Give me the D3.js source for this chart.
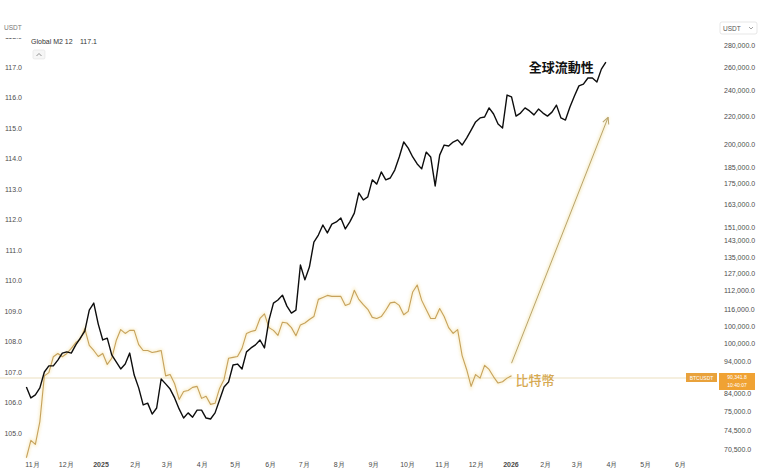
<!DOCTYPE html>
<html><head><meta charset="utf-8">
<script src="https://cdn.jsdelivr.net/npm/d3@7"></script>
<style>
html,body{margin:0;padding:0;background:#fff;}
svg{display:block;font-family:"Liberation Sans",Arial,sans-serif;}
</style></head><body>
<svg id="c" width="760" height="472"></svg>
<script>
// ---------------- data ----------------
const seriesStart = "2024-10-27";
const stepDays = 4;
const m2Name = "Global M2 12";
const m2Last = "117.1";
const m2Values = [106.51,106.15,106.25,106.48,107.00,107.20,107.20,107.39,107.62,107.66,
107.62,107.89,108.11,108.34,109.03,109.26,108.57,108.05,108.11,107.56,
107.33,107.10,107.26,107.62,106.90,106.48,105.92,105.98,105.62,105.82,
106.77,106.61,106.44,106.15,105.79,105.49,105.66,105.52,105.75,105.75,
105.49,105.46,105.66,106.08,106.51,106.67,107.23,107.26,107.10,107.66,
107.79,107.89,108.05,107.79,108.70,109.26,109.36,109.52,109.16,108.93,
109.03,110.51,110.02,110.44,111.26,111.49,111.82,111.56,111.85,111.92,
112.05,111.69,111.92,112.21,112.87,112.64,112.74,113.30,113.16,113.56,
113.30,113.36,113.62,114.05,114.54,114.34,114.05,113.82,113.66,114.21,
114.05,113.10,114.11,114.44,114.41,114.54,114.61,114.44,114.67,114.93,
115.20,115.33,115.36,115.66,115.46,115.13,115.00,116.08,116.02,115.39,
115.49,115.66,115.56,115.43,115.62,115.49,115.39,115.52,115.75,115.33,
115.26,115.69,116.05,116.38,116.44,116.64,116.64,116.51,116.93,117.16];
const btcValues = [68900,73100,72100,77900,91000,92000,97100,98200,97100,98200,
99900,101900,103000,106800,100900,99200,97200,98200,94600,96600,
102600,106500,105100,106200,106200,101200,99200,99200,98500,98800,
99200,91000,91400,88600,84000,86300,86600,87500,87800,84300,
84900,82600,82900,87200,89900,96600,96900,97200,99900,105100,
105800,106200,110600,112300,107200,106200,104400,109200,108900,107200,
104300,108200,108900,110200,111300,118000,118800,119600,119200,119200,
119200,115600,116300,121700,118000,115900,114100,111000,110600,111300,
113700,116600,116900,115600,112000,113300,121000,123900,117600,114000,
110600,110600,114400,111300,107200,105100,106500,97500,93000,87800,
91400,90300,94300,93000,90700,88800,89200,90300,91000];
const btcLastPrice = 90341.8;
const btcCountdown = "10:40:07";
const m2Ticks = [105,106,107,108,109,110,111,112,113,114,115,116,117,118];
const btcTickValues = [280000,260000,240000,220000,200000,185000,175000,163000,151000,144300,136200,129000,121800,114200,107800,101700,95700,85800,80700,75700,70900];
const btcTickLabels = ["280,000.0","260,000.0","240,000.0","220,000.0","200,000.0","185,000.0","175,000.0","163,000.0","151,000.0","143,000.0","135,000.0","127,000.0","112,000.0","116,000.0","100,000.0","100,000.0","94,000.0","84,000.0","75,000.0","74,500.0","70,500.0"];
const xDomain = ["2024-11-01","2026-06-01"];
const m2Label = "全球流動性";
const btcLabel = "比特幣";
const arrowFrom = {date:"2026-01-02", value:95000};
const arrowTo = {date:"2026-03-29", value:219000};

// ---------------- chart ----------------
const parse = d3.timeParse("%Y-%m-%d");
const start = parse(seriesStart);
const svg = d3.select("#c");
const x = d3.scaleTime().domain(xDomain.map(parse)).range([32,680]);
const yM2 = d3.scaleLinear().domain([105,117]).range([433,67]);
const yBtc = d3.scaleLog().domain([70500,280000]).range([451,45]);

const m2Data = m2Values.map((v,i)=>({d:d3.timeDay.offset(start,i*stepDays),v}));
const btcData = btcValues.map((v,i)=>({d:d3.timeDay.offset(start,i*stepDays),v}));

const defs = svg.append("defs");
const f = defs.append("filter").attr("id","glow").attr("x","-20%").attr("y","-20%").attr("width","140%").attr("height","140%");
f.append("feGaussianBlur").attr("stdDeviation",1.4);
defs.append("clipPath").attr("id","leftclip").append("rect").attr("x",0).attr("y",38).attr("width",30).attr("height",440);
defs.append("marker").attr("id","ah").attr("viewBox","0 0 10 10").attr("refX",9).attr("refY",5)
  .attr("markerWidth",8).attr("markerHeight",8).attr("orient","auto")
  .append("path").attr("d","M1,1 L9,5 L1,9").attr("fill","none").attr("stroke","#b9a46c").attr("stroke-width",1.3);

svg.append("rect").attr("width",760).attr("height",472).attr("fill","#fff");

// x axis
const xAxis = d3.axisBottom(x).ticks(d3.timeMonth.every(1)).tickSize(0).tickPadding(7)
  .tickFormat(d=> d.getMonth()===0 ? d3.timeFormat("%Y")(d) : (d.getMonth()+1)+"月");
const gx = svg.append("g").attr("transform","translate(0,455)").call(xAxis);
gx.select(".domain").remove();
gx.selectAll("text").attr("fill","#4a4a4a").attr("font-size",7)
  .attr("font-weight",d=>d.getMonth()===0?"700":"400");

// left axis
const gl = svg.append("g").attr("clip-path","url(#leftclip)").append("g").attr("transform","translate(23,0)")
  .call(d3.axisLeft(yM2).tickValues(m2Ticks).tickSize(0).tickPadding(1).tickFormat(d3.format(".1f")));
gl.select(".domain").remove();
gl.selectAll("text").attr("fill","#4d4d4d").attr("font-size",7);

// right axis
const gr = svg.append("g").attr("transform","translate(723,0)")
  .call(d3.axisRight(yBtc).tickValues(btcTickValues).tickSize(0).tickPadding(1).tickFormat((d,i)=>btcTickLabels[i]));
gr.select(".domain").remove();
gr.selectAll("text").attr("fill","#4d4d4d").attr("font-size",7);

// price line
const py = yBtc(btcLastPrice);
svg.append("line").attr("x1",0).attr("x2",686).attr("y1",py).attr("y2",py)
  .attr("stroke","#ece0c0").attr("stroke-width",1.2);

// BTC line
const lineB = d3.line().x(d=>x(d.d)).y(d=>yBtc(d.v));
svg.append("path").datum(btcData).attr("d",lineB).attr("fill","none")
  .attr("stroke","#f7e7b4").attr("stroke-width",3).attr("opacity",0.7).attr("filter","url(#glow)");
svg.append("path").datum(btcData).attr("d",lineB).attr("fill","none")
  .attr("stroke","#c6a25c").attr("stroke-width",1.1).attr("stroke-linejoin","round");

// M2 line
const lineM = d3.line().x(d=>x(d.d)).y(d=>yM2(d.v));
svg.append("path").datum(m2Data).attr("d",lineM).attr("fill","none")
  .attr("stroke","#0d0d0d").attr("stroke-width",1.4).attr("stroke-linejoin","round");

// arrow
const ax1 = x(parse(arrowFrom.date)), ay1 = yBtc(arrowFrom.value);
const ax2 = x(parse(arrowTo.date)), ay2 = yBtc(arrowTo.value);
svg.append("line").attr("x1",ax1).attr("y1",ay1).attr("x2",ax2).attr("y2",ay2)
  .attr("stroke","#f6ecc4").attr("stroke-width",3).attr("filter","url(#glow)");
svg.append("line").attr("x1",ax1).attr("y1",ay1).attr("x2",ax2).attr("y2",ay2)
  .attr("stroke","#b9a46c").attr("stroke-width",1).attr("marker-end","url(#ah)");

// labels
const mLast = m2Data[m2Data.length-1];
svg.append("text").attr("x",x(mLast.d)-12).attr("y",yM2(mLast.v)+10).attr("text-anchor","end")
  .attr("font-family","'Noto Sans CJK TC','Noto Sans CJK SC',sans-serif").attr("font-weight",700)
  .attr("font-size",13).attr("fill","#111").text(m2Label);
const bLast = btcData[btcData.length-1];
svg.append("text").attr("x",x(bLast.d)+4).attr("y",yBtc(bLast.v)+9)
  .attr("font-family","'Noto Sans CJK TC','Noto Sans CJK SC',sans-serif").attr("font-weight",500)
  .attr("font-size",13).attr("fill","#d6a951").text(btcLabel);

// legend top-left
svg.append("text").attr("x",31).attr("y",44).attr("font-size",7).attr("fill","#333").text(m2Name);
svg.append("text").attr("x",80).attr("y",44).attr("font-size",7).attr("fill","#333").text(m2Last);
svg.append("rect").attr("x",33).attr("y",50).attr("width",12).attr("height",9).attr("rx",1.5)
  .attr("fill","#f6f6f6").attr("stroke","#e2e2e2").attr("stroke-width",0.6);
svg.append("path").attr("d","M36.5,56 L39,53.5 L41.5,56").attr("fill","none").attr("stroke","#666").attr("stroke-width",0.7);
svg.append("text").attr("x",4).attr("y",30).attr("font-size",6.5).attr("fill","#777").text("USDT");

// USDT selector right
svg.append("rect").attr("x",720).attr("y",22).attr("width",37).attr("height",12).attr("rx",2)
  .attr("fill","#fff").attr("stroke","#ddd").attr("stroke-width",0.7);
svg.append("text").attr("x",723).attr("y",30.5).attr("font-size",6.5).attr("fill","#555").text("USDT");
svg.append("path").attr("d","M749,27 L751,29 L753,27").attr("fill","none").attr("stroke","#777").attr("stroke-width",0.7);

// price badge
svg.append("rect").attr("x",686).attr("y",py-5).attr("width",31).attr("height",9).attr("fill","#e9a23b");
svg.append("text").attr("x",701.5).attr("y",py+1.8).attr("text-anchor","middle").attr("font-size",5).attr("fill","#fff").text("BTCUSDT");
svg.append("rect").attr("x",719).attr("y",py-5).attr("width",36).attr("height",17).attr("fill","#f0a233");
svg.append("text").attr("x",737).attr("y",py+1.5).attr("text-anchor","middle").attr("font-size",5).attr("fill","#fff").text(d3.format(",.1f")(btcLastPrice));
svg.append("text").attr("x",737).attr("y",py+9.5).attr("text-anchor","middle").attr("font-size",5).attr("fill","#fff").text(btcCountdown);
</script>
</body></html>
